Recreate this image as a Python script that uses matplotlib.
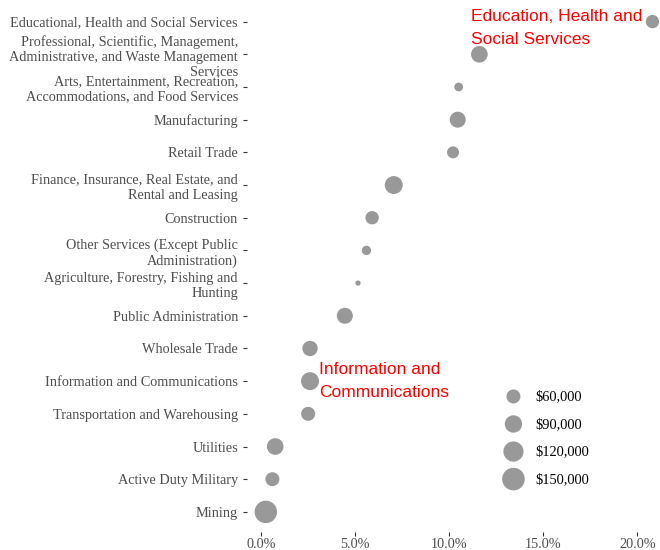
import matplotlib
matplotlib.use("Agg")
import matplotlib.pyplot as plt

industrias = [
    "Educational, Health and Social Services",
    "Professional, Scientific, Management,\nAdministrative, and Waste Management\nServices",
    "Arts, Entertainment, Recreation,\nAccommodations, and Food Services",
    "Manufacturing",
    "Retail Trade",
    "Finance, Insurance, Real Estate, and\nRental and Leasing",
    "Construction",
    "Other Services (Except Public\nAdministration)",
    "Agriculture, Forestry, Fishing and\nHunting",
    "Public Administration",
    "Wholesale Trade",
    "Information and Communications",
    "Transportation and Warehousing",
    "Utilities",
    "Active Duty Military",
    "Mining",
]
porcentaje = [20.8, 11.6, 10.5, 10.45, 10.2, 7.05, 5.9, 5.6, 5.15, 4.45,
              2.6, 2.6, 2.5, 0.75, 0.6, 0.25]
ingreso = [55000, 83000, 26000, 77000, 45000, 96000, 55000, 29000, 12000, 77000,
           71000, 96000, 60000, 83000, 60000, 148000]
leyenda_valores = [60000, 90000, 120000, 150000]
leyenda_textos = ["$60,000", "$90,000", "$120,000", "$150,000"]

GRIS = "#999999"


def tamano(v):
    return (v - 4200) / 549.0


fig = plt.figure(figsize=(6.6, 5.5), dpi=100)
ax = fig.add_axes([247 / 660, 18.5 / 550, 413 / 660, 529.5 / 550])

n = len(industrias)
ys = list(range(n - 1, -1, -1))
ax.scatter(porcentaje, ys, s=[tamano(v) for v in ingreso], color=GRIS,
           edgecolors="none", zorder=3)

ax.set_xlim(-0.75, 21.2)
ax.set_ylim(-0.6, n - 1 + 0.6)
ax.set_yticks(ys)
ax.set_yticklabels(industrias, family="Liberation Serif", fontsize=10.3,
                   color="#4d4d4d", linespacing=1.2)
ax.set_xticks([0, 5, 10, 15, 20])
ax.set_xticklabels(["0.0%", "5.0%", "10.0%", "15.0%", "20.0%"],
                   family="Liberation Serif", fontsize=10.3, color="#4d4d4d")
ax.tick_params(length=3, color="#333333", width=0.8)
ax.tick_params(axis="x", pad=2)
for s in ax.spines.values():
    s.set_visible(False)

ax.text(11.14, 14.8, "Education, Health and\nSocial Services", color="red",
        family="Liberation Sans", fontsize=12.5, ha="left", va="center",
        linespacing=1.68)
ax.text(3.08, 4.0, "Information and\nCommunications", color="red",
        family="Liberation Sans", fontsize=12.5, ha="left", va="center",
        linespacing=1.68)

handles = [ax.scatter([], [], s=tamano(v), color=GRIS, edgecolors="none")
           for v in leyenda_valores]
leg = ax.legend(handles, leyenda_textos, frameon=False, loc="center left",
                bbox_to_anchor=(486 / 660, 1 - 438 / 550),
                bbox_transform=fig.transFigure, labelspacing=1.0,
                handletextpad=0.55, prop={"family": "Liberation Serif", "size": 10.4})

fig.savefig("out.png", dpi=100)
